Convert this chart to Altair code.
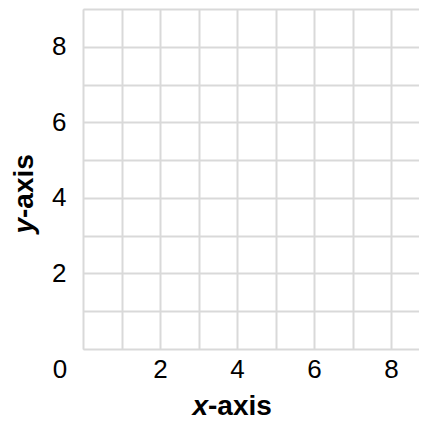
import altair as alt
import pandas as pd

# grid positions (one line per unit), labelled ticks and titles
x_grid = [0, 1, 2, 3, 4, 5, 6, 7, 8]
y_grid = [0, 1, 2, 3, 4, 5, 6, 7, 8, 9]
tick_labels = [2, 4, 6, 8]
origin_x = [0]
origin_y = [0]
origin_text = ["0"]
x_title = ["x", "-axis"]
y_title = ["y", "-axis"]

FONT = "Liberation Sans"
GRID = "#d9d9d9"
label_expr = "indexof([" + ",".join(str(v) for v in tick_labels) + "], datum.value) >= 0 ? datum.label : ''"

df = pd.DataFrame({"x": origin_x, "y": origin_y, "t": origin_text})

W, H = 336, 340

x_axis = alt.Axis(values=x_grid, labelExpr=label_expr, grid=True, gridColor=GRID, gridWidth=2,
                  ticks=False, domain=False, labelFont=FONT, labelFontSize=26, labelColor="black",
                  labelPadding=7, title=None, labelFlush=False)
y_axis = alt.Axis(values=y_grid, labelExpr=label_expr, grid=True, gridColor=GRID, gridWidth=2,
                  ticks=False, domain=False, labelFont=FONT, labelFontSize=26, labelColor="black",
                  labelPadding=17, title=None, labelFlush=False)

origin = alt.Chart(df).mark_text(font=FONT, fontSize=26, color="black", dx=-23, dy=21,
                                 baseline="middle", align="center").encode(
    x=alt.X("x:Q", scale=alt.Scale(domain=[0, W / 38.5], nice=False, zero=False), axis=x_axis),
    y=alt.Y("y:Q", scale=alt.Scale(domain=[0, 9], nice=False, zero=False), axis=y_axis),
    text="t:N",
)

xt1 = alt.Chart(df).mark_text(text=x_title[0], font=FONT, fontSize=28, fontWeight="bold",
                              fontStyle="italic", color="black", align="right",
                              baseline="alphabetic").encode(x=alt.value(125), y=alt.value(406))
xt2 = alt.Chart(df).mark_text(text=x_title[1], font=FONT, fontSize=28, fontWeight="bold",
                              color="black", align="left",
                              baseline="alphabetic").encode(x=alt.value(125), y=alt.value(406))
yt1 = alt.Chart(df).mark_text(text=y_title[0], font=FONT, fontSize=28, fontWeight="bold",
                              fontStyle="italic", color="black", align="right", angle=270,
                              baseline="alphabetic").encode(x=alt.value(-50), y=alt.value(209))
yt2 = alt.Chart(df).mark_text(text=y_title[1], font=FONT, fontSize=28, fontWeight="bold",
                              color="black", align="left", angle=270,
                              baseline="alphabetic").encode(x=alt.value(-50), y=alt.value(209))

chart = alt.layer(origin, xt1, xt2, yt1, yt2).properties(
    width=W, height=H,
    autosize=alt.AutoSizeParams(type="none"),
    padding={"left": 75, "top": 1, "right": 0, "bottom": 74},
).configure_view(stroke=None).configure(background="white")

chart.save("out.html", embed_options={"renderer": "svg", "actions": False})
